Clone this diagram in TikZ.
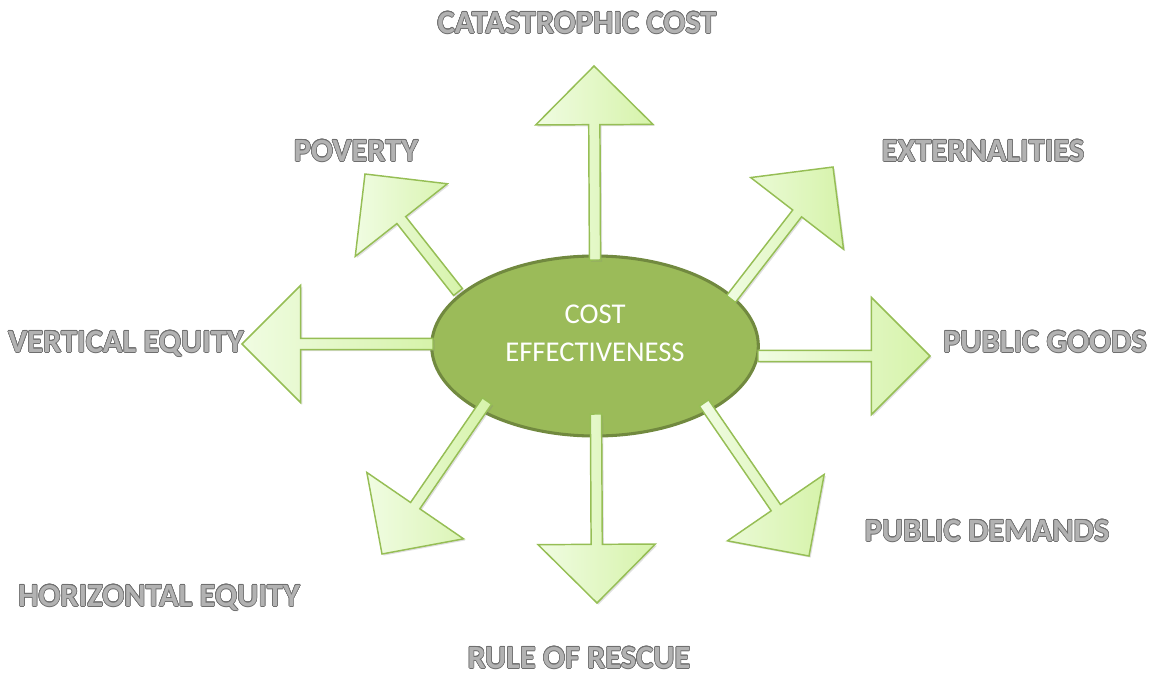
\documentclass[tikz,border=0pt]{standalone}
\usepackage{fontspec}
\setmainfont{Carlito}
\usepackage{contour}
\usetikzlibrary{calc,shadows,shapes.geometric}
\definecolor{olive}{RGB}{155,187,89}
\definecolor{olivedark}{RGB}{113,137,63}
\definecolor{arrowedge}{RGB}{150,190,85}
\definecolor{lightA}{RGB}{240,252,226}
\definecolor{lightB}{RGB}{214,243,170}
\definecolor{labelfill}{RGB}{178,178,178}
\definecolor{labeledge}{RGB}{110,110,110}
\contournumber{16}
\contourlength{0.45pt}
\newcommand\glabel[1]{\contour{labeledge}{\textcolor{labelfill}{#1}}}
\newcommand\blockarrow[2]{%
  \coordinate (hb) at ($(#2)!44pt!(#1)$);
  \draw[barrow] ($(#1)!4.2pt!90:(#2)$) -- ($(hb)!4.2pt!90:(#2)$) -- ($(hb)!44pt!90:(#2)$) -- (#2)
     -- ($(hb)!44pt!-90:(#2)$) -- ($(hb)!4.2pt!-90:(#2)$) -- ($(#1)!4.2pt!-90:(#2)$) -- cycle;}
\tikzset{
  barrow/.style={draw=arrowedge, line width=1.1pt, line join=miter, left color=lightA, right color=lightB,
     drop shadow={shadow xshift=1.2pt, shadow yshift=-1.2pt, opacity=0.25}},
  lab/.style={font=\bfseries\fontsize{24.3}{28}\selectfont, text height=15.6pt, text depth=0pt, inner sep=0pt},
  centre/.style={ellipse, fill=olive, draw=olivedark, line width=2.3pt, minimum width=245pt, minimum height=135pt},
  centretext/.style={text=white, align=center, font=\fontsize{21.5}{28.5}\selectfont, inner sep=0pt}
}
\begin{document}
\begin{tikzpicture}[x=0.75pt,y=-0.75pt]
\useasboundingbox (0,0) rectangle (1155,675);
\node[centre] (ce) at (595,346) {};
\node[centretext] (cet) at (595,333) {COST\\EFFECTIVENESS};
% start points (at ellipse edge) and tips
\coordinate (sU) at (595,260);  \coordinate (tU) at (594,66);
\coordinate (sD) at (596,414);  \coordinate (tD) at (597,603);
\coordinate (sL) at (433,344);  \coordinate (tL) at (242,344);
\coordinate (sR) at (758,356);  \coordinate (tR) at (930,356);
\coordinate (sUL) at (458,292); \coordinate (tUL) at (365,174);
\coordinate (sUR) at (731,299); \coordinate (tUR) at (833,167);
\coordinate (sLL) at (487,401); \coordinate (tLL) at (382,554);
\coordinate (sLR) at (704,403); \coordinate (tLR) at (809,556);
\blockarrow{sU}{tU}
\blockarrow{sD}{tD}
\blockarrow{sL}{tL}
\blockarrow{sR}{tR}
\blockarrow{sUL}{tUL}
\blockarrow{sUR}{tUR}
\blockarrow{sLL}{tLL}
\blockarrow{sLR}{tLR}
% labels
\node[lab] (cat) at (577,23) {\glabel{CATASTROPHIC COST}};
\node[lab] (pov) at (356,151) {\glabel{POVERTY}};
\node[lab] (ext) at (983,151) {\glabel{EXTERNALITIES}};
\node[lab] (ver) at (126,342) {\glabel{VERTICAL EQUITY}};
\node[lab] (pub) at (1045,342) {\glabel{PUBLIC GOODS}};
\node[lab] (dem) at (987,531) {\glabel{PUBLIC DEMANDS}};
\node[lab] (hor) at (159,596) {\glabel{HORIZONTAL EQUITY}};
\node[lab] (rul) at (579,658) {\glabel{RULE OF RESCUE}};
\end{tikzpicture}
\end{document}
